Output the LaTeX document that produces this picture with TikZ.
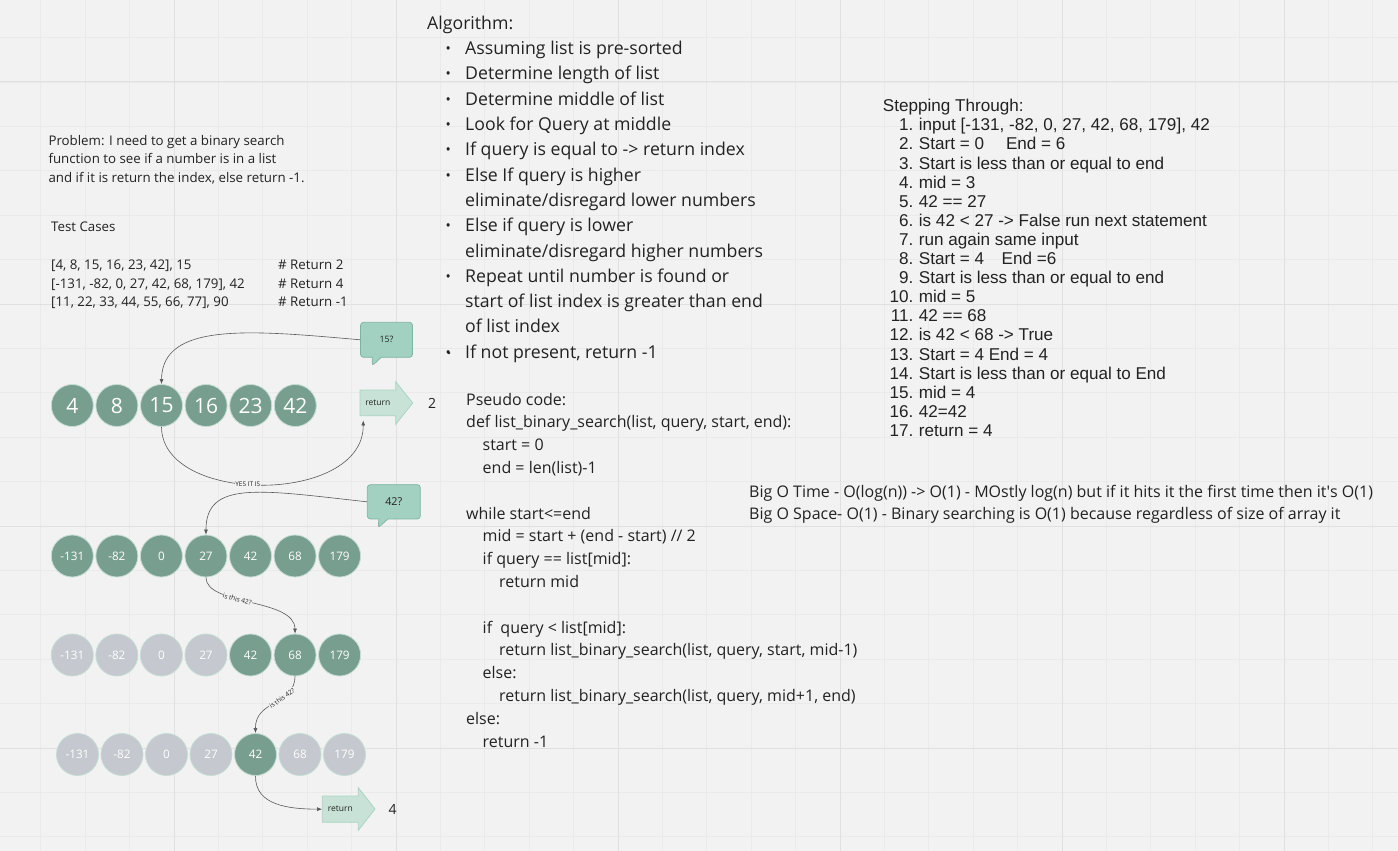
\documentclass[tikz,border=0pt]{standalone}
\usepackage{fontspec}
\setmainfont{Open Sans}
\newfontfamily\arialfont{Liberation Sans}
\usetikzlibrary{arrows.meta, shapes.callouts}
\definecolor{boardgrey}{HTML}{F2F2F2}
\definecolor{gridminor}{HTML}{EAEAEA}
\definecolor{gridmajor}{HTML}{E0E0E0}
\definecolor{sagegreen}{HTML}{789E8F}
\definecolor{sageedge}{HTML}{C4DDD3}
\definecolor{fadedgrey}{HTML}{C5C8CE}
\definecolor{mintfill}{HTML}{A2D1C1}
\definecolor{mintedge}{HTML}{7DB3A1}
\definecolor{palemint}{HTML}{C8E2D8}
\definecolor{palemintedge}{HTML}{A8D4C4}
\definecolor{inkgrey}{HTML}{222222}
\newcommand{\pxfont}[1]{\fontsize{#1}{#1}\selectfont}
\tikzset{
    numdot/.style={circle, fill=sagegreen, draw=sageedge, line width=0.8pt, minimum size=42pt, inner sep=0pt, text=white},
    greydot/.style={numdot, fill=fadedgrey},
    askbubble/.style={rectangle callout, rounded corners=3pt, fill=mintfill, draw=mintedge, line width=0.7pt, minimum width=52pt, minimum height=35pt, inner sep=0pt, text=inkgrey, callout pointer width=9pt},
    retbody/.style={rectangle, minimum width=36pt, minimum height=26pt, inner sep=0pt, font=\pxfont{8.5}, text=inkgrey},
    retshape/.style={fill=palemint, draw=palemintedge, line width=0.8pt},
    link/.style={-{Latex[length=5pt,width=4pt]}, draw=black!65, line width=0.6pt},
    linktag/.style={font=\pxfont{6.5}, fill=boardgrey, inner sep=0.6pt, text=inkgrey},
    plaintext/.style={anchor=base west, inner sep=0pt, text=inkgrey}
}
\begin{document}
\begin{tikzpicture}[x=1pt, y=-1pt]
\useasboundingbox (0,0) rectangle (1398,851);
\fill[boardgrey] (0,0) rectangle (1398,851);
% board grid
\foreach \k in {0,...,30} \draw[gridminor, line width=0.8pt] ({40.8+44.4*\k},0) -- ++(0,851);
\foreach \k in {0,...,18} \draw[gridminor, line width=0.8pt] (0,{37.6+44.4*\k}) -- ++(1398,0);
\foreach \k in {0,...,5} \draw[gridmajor, line width=1pt] ({174+222*\k},0) -- ++(0,851);
\foreach \k in {0,...,3} \draw[gridmajor, line width=1pt] (0,{82+222*\k}) -- ++(1398,0);

% problem and test cases
\foreach \txt [count=\i from 0] in {Problem: I need to get a binary search, function to see if a number is in a list, {and if it is return the index, else return -1.}}
    \node[plaintext, font=\pxfont{13.3}] (prob\i) at (48.3,{145+18.85*\i}) {\txt};
\node[plaintext, font=\pxfont{13.3}] (tests) at (51,231) {Test Cases};
\foreach \case/\ret [count=\i from 0] in {{[4, 8, 15, 16, 23, 42], 15}/2, {[-131, -82, 0, 27, 42, 68, 179], 42}/4, {[11, 22, 33, 44, 55, 66, 77], 90}/-1} {
    \node[plaintext, font=\pxfont{13.3}] (case\i) at (51,{269.3+18.7*\i}) {\case};
    \node[plaintext, font=\pxfont{13.3}] (want\i) at (278,{269.3+18.7*\i}) {\# Return \ret};
}

% algorithm
\node[plaintext, font=\pxfont{17.7}] (alghead) at (427,29.3) {Algorithm:};
\foreach \txt [count=\i] in {Assuming list is pre-sorted, Determine length of list, Determine middle of list, Look for Query at middle, If query is equal to -> return index, Else If query is higher, eliminate/disregard lower numbers, Else if query is lower, eliminate/disregard higher numbers, Repeat until number is found or, start of list index is greater than end, of list index, {If not present, return -1}}
    \node[plaintext, font=\pxfont{17.7}] (alg\i) at (465,{29.3+25.3*\i}) {\txt};
\foreach \i in {1,...,6,8,10,13}
    \node[plaintext, font=\pxfont{14}] (bul\i) at (445.5,{29.3+25.3*\i-1}) {•};

% pseudo code
\foreach \n/\lvl/\txt in {0/0/{Pseudo code:}, 1/0/{def list\_binary\_search(list, query, start, end):}, 2/1/{start = 0}, 3/1/{end = len(list)-1}, 5/0/{while start<=end}, 6/1/{mid = start + (end - start) // 2}, 7/1/{if query == list[mid]:}, 8/2/{return mid}, 10/1/{if \ query < list[mid]:}, 11/2/{return list\_binary\_search(list, query, start, mid-1)}, 12/1/{else:}, 13/2/{return list\_binary\_search(list, query, mid+1, end)}, 14/0/{else:}, 15/1/{return -1}}
    \node[plaintext, font=\pxfont{16}] (code\n) at ({466+16.5*\lvl},{405+22.8*\n}) {\txt};

% stepping through
\node[plaintext, font=\arialfont\pxfont{17.1}] (stephead) at (882.7,111.7) {Stepping Through:};
\foreach \txt [count=\i] in {{input [-131, -82, 0, 27, 42, 68, 179], 42}, {Start = 0\hspace{22pt}End = 6}, Start is less than or equal to end, mid = 3, 42 == 27, is 42 < 27 -> False run next statement, run again same input, {Start = 4\hspace{17.7pt}End =6}, Start is less than or equal to end, mid = 5, 42 == 68, is 42 < 68 -> True, Start = 4 End = 4, Start is less than or equal to End, mid = 4, 42=42, return = 4} {
    \node[anchor=base east, inner sep=0pt, text=inkgrey, font=\arialfont\pxfont{17.1}] (num\i) at (913.6,{111.7+19.1*\i}) {\i.};
    \node[plaintext, font=\arialfont\pxfont{17.1}] (step\i) at (918.7,{111.7+19.1*\i}) {\txt};
}

% complexity
\node[plaintext, font=\pxfont{16}] (bigtime) at (749,497) {Big O Time - O(log(n)) -> O(1) - MOstly log(n) but if it hits it the first time then it\textquotesingle s O(1)};
\node[plaintext, font=\pxfont{16}] (bigspace) at (749,519) {Big O Space- O(1) - Binary searching is O(1) because regardless of size of array it};

% number rows
\foreach \v [count=\i] in {4,8,15,16,23,42}
    \node[numdot, font=\pxfont{21}] (a\i) at ({72.3+44.6*(\i-1)},405.5) {\v};
\foreach \v [count=\i] in {-131,-82,0,27,42,68,179}
    \node[numdot, font=\pxfont{11.7}] (b\i) at ({72.3+44.55*(\i-1)},556) {\v};
\foreach \v/\st [count=\i] in {-131/greydot,-82/greydot,0/greydot,27/greydot,42/numdot,68/numdot,179/numdot}
    \node[\st, font=\pxfont{11.7}] (c\i) at ({72.3+44.55*(\i-1)},655) {\v};
\foreach \v/\st [count=\i] in {-131/greydot,-82/greydot,0/greydot,27/greydot,42/numdot,68/greydot,179/greydot}
    \node[\st, font=\pxfont{11.7}] (d\i) at ({77.5+44.5*(\i-1)},754.5) {\v};

% questions
\node[askbubble, font=\pxfont{8.8}, callout absolute pointer={(372,366)}] (ask15) at (386.5,339.8) {15?};
\node[askbubble, minimum width=53pt, minimum height=34.3pt, font=\pxfont{10.8}, callout absolute pointer={(378,528)}] (ask42) at (393.8,501.8) {42?};
\fill[inkgrey] (449,353) circle (1.3);

% return arrows
\filldraw[retshape] (360,390) -- (395.7,390) -- (395.7,381.7) -- (412.7,403) -- (395.7,424.3) -- (395.7,415.7) -- (360,415.7) -- cycle;
\node[retbody] (ret1) at (377.9,402.9) {return};
\node[text=inkgrey, font=\pxfont{14}] (ans1) at (432,403) {2};
\filldraw[retshape] (322.3,796) -- (358.3,796) -- (358.3,787.7) -- (375,809) -- (358.3,830.3) -- (358.3,822.3) -- (322.3,822.3) -- cycle;
\node[retbody] (ret2) at (340.3,809.2) {return};
\node[text=inkgrey, font=\pxfont{14}] (ans2) at (392.7,809) {4};

% connectors
\draw[link] (ask15.west) .. controls (250,330) and (162,322) .. (a3.north);
\draw[link] (a3.south) .. controls (162,505) and (364,505) .. node[linktag, pos=0.45] {YES IT IS} ([xshift=3.5pt,yshift=-4.3pt]ret1.south west);
\draw[link] (ask42.west) .. controls (260,490) and (206,480) .. (b4.north);
\draw[link] (b4.south) .. controls (206,606) and (294.7,598) .. node[linktag, sloped, pos=0.4] {is this 42?} (c6.north);
\draw[link] (c6.south) .. controls (294.7,705) and (255,700) .. node[linktag, sloped, pos=0.38] {is this 42?} (d5.north);
\draw[link] (d5.south) .. controls (255,806) and (290,809) .. (ret2.west);
\end{tikzpicture}
\end{document}
